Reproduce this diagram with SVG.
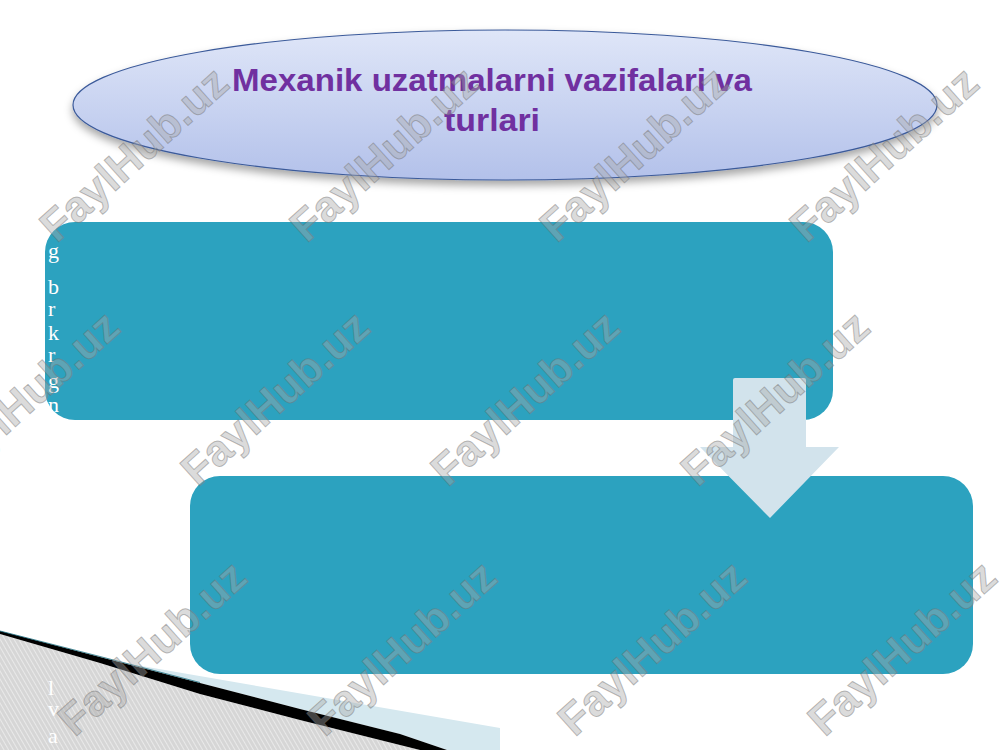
<svg xmlns="http://www.w3.org/2000/svg" width="1000" height="750" viewBox="0 0 1000 750">
<defs>
<style>
.box{fill:#2ca2bf;}
.vl{font-family:"Liberation Serif","DejaVu Serif",serif;font-size:22px;fill:#ffffff;}
.title{font-family:"Liberation Sans",Arial,sans-serif;font-weight:bold;font-size:32px;fill:#7030a0;}
.wm{font-family:"Liberation Sans",Arial,sans-serif;font-weight:bold;font-size:44px;fill:#a8a8a8;fill-opacity:0.42;stroke:#6f6f6f;stroke-opacity:0.45;stroke-width:1;text-anchor:middle;}
</style>
<linearGradient id="ellG" x1="0" y1="0" x2="0" y2="1">
<stop offset="0" stop-color="#dfe6f8"/>
<stop offset="1" stop-color="#b3c1ea"/>
</linearGradient>
<filter id="sh" x="-10%" y="-20%" width="120%" height="160%">
<feDropShadow dx="0" dy="5" stdDeviation="4" flood-color="#000" flood-opacity="0.35"/>
</filter>
<pattern id="stripes" width="4" height="4" patternUnits="userSpaceOnUse" patternTransform="rotate(-30)">
<rect width="4" height="4" fill="#d6d6d6"/>
<line x1="0" y1="0" x2="0" y2="4" stroke="#f2f2f2" stroke-width="1.4"/>
</pattern>
</defs>
<rect width="1000" height="750" fill="#ffffff"/>

<g id="corner-decoration">
<polygon points="0,634 100,663 200,694 300,720 420,750 0,750" fill="url(#stripes)"/>
<polygon points="130,664 500,728 500,750 447,750 400,734 300,709 200,683 140,667" fill="#d5e8ef"/>
<path d="M0,631 L100,657 L200,683 L300,709 L400,734 L447,750 L420,750 L300,720 L200,694 L100,663 L0,634 Z" fill="#000000"/>
<path d="M0,631 L100,656.5 L200,682.5" fill="none" stroke="#1d6f80" stroke-width="0.8"/>
<text class="vl" x="48" y="695">l</text>
<text class="vl" x="48" y="716">v</text>
<text class="vl" x="48" y="743">a</text>
</g>

<g id="title-node">
<ellipse cx="505" cy="105" rx="432" ry="75" fill="url(#ellG)" stroke="#3b5a9a" stroke-width="1.2" filter="url(#sh)"/>
<text class="title" x="492" y="91" text-anchor="middle" textLength="520" lengthAdjust="spacingAndGlyphs">Mexanik uzatmalarni vazifalari va</text>
<text class="title" x="492" y="131" text-anchor="middle" textLength="96" lengthAdjust="spacingAndGlyphs">turlari</text>
<text class="vl" x="52" y="116">u</text>
</g>

<g id="box-1">
<rect class="box" x="45" y="222" width="788" height="198" rx="30"/>
<text class="vl" x="48" y="258">g</text>
<text class="vl" x="48" y="294">b</text>
<text class="vl" x="48" y="316">r</text>
<text class="vl" x="48" y="340">k</text>
<text class="vl" x="48" y="362">r</text>
<text class="vl" x="48" y="388">g</text>
<text class="vl" x="48" y="412">n</text>
</g>

<g id="box-2">
<rect class="box" x="190" y="476" width="783" height="198" rx="30"/>
</g>

<g id="connectors">
<path d="M735,378 L804,378 Q806,378 806,380 L806,447 L839,447 L770,518 L700,447 L733,447 L733,380 Q733,378 735,378 Z" fill="#d2e3ec"/>
</g>

<g id="watermarks">
<g transform="translate(134,154) rotate(-42)"><text class="wm" x="0" y="15">FaylHub.uz</text></g>
<g transform="translate(384,154) rotate(-42)"><text class="wm" x="0" y="15">FaylHub.uz</text></g>
<g transform="translate(634,154) rotate(-42)"><text class="wm" x="0" y="15">FaylHub.uz</text></g>
<g transform="translate(884,154) rotate(-42)"><text class="wm" x="0" y="15">FaylHub.uz</text></g>
<g transform="translate(25,398) rotate(-42)"><text class="wm" x="0" y="15">FaylHub.uz</text></g>
<g transform="translate(275,398) rotate(-42)"><text class="wm" x="0" y="15">FaylHub.uz</text></g>
<g transform="translate(525,398) rotate(-42)"><text class="wm" x="0" y="15">FaylHub.uz</text></g>
<g transform="translate(775,398) rotate(-42)"><text class="wm" x="0" y="15">FaylHub.uz</text></g>
<g transform="translate(152,648) rotate(-42)"><text class="wm" x="0" y="15">FaylHub.uz</text></g>
<g transform="translate(402,648) rotate(-42)"><text class="wm" x="0" y="15">FaylHub.uz</text></g>
<g transform="translate(652,648) rotate(-42)"><text class="wm" x="0" y="15">FaylHub.uz</text></g>
<g transform="translate(902,648) rotate(-42)"><text class="wm" x="0" y="15">FaylHub.uz</text></g>
</g>
</svg>
